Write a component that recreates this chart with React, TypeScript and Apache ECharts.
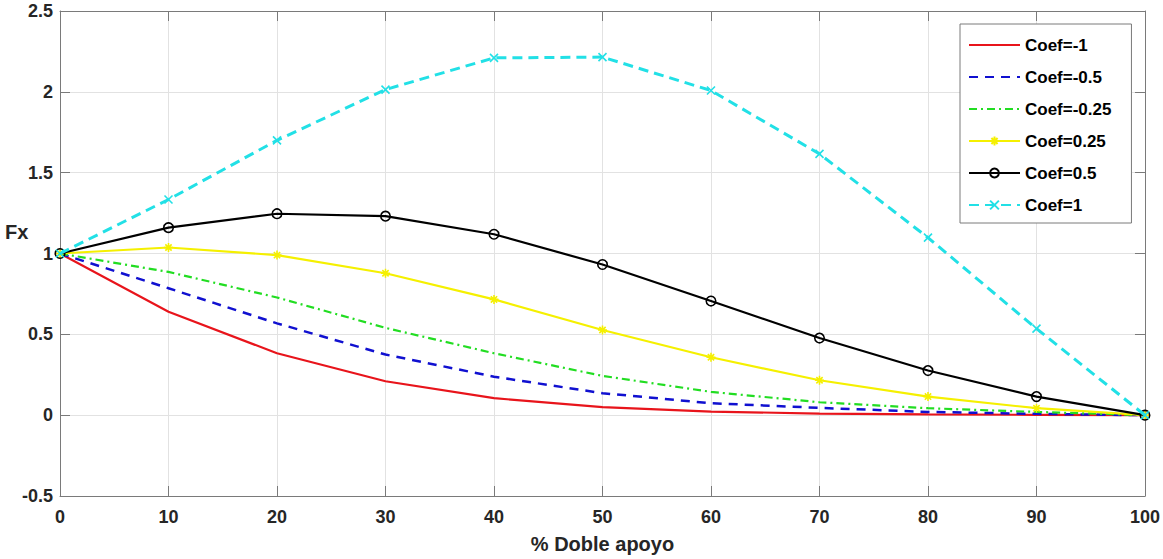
import React, { useEffect, useRef } from "react";
import * as echarts from "echarts";

const xValues = [0, 10, 20, 30, 40, 50, 60, 70, 80, 90, 100];
const seriesNames = ["Coef=-1", "Coef=-0.5", "Coef=-0.25", "Coef=0.25", "Coef=0.5", "Coef=1"];
const coefM1 = [1, 0.64, 0.383, 0.21, 0.105, 0.05, 0.022, 0.01, 0.005, 0.002, 0];
const coefM05 = [1, 0.785, 0.568, 0.375, 0.238, 0.136, 0.074, 0.045, 0.02, 0.008, 0];
const coefM025 = [1, 0.886, 0.728, 0.54, 0.383, 0.243, 0.144, 0.08, 0.043, 0.02, 0];
const coefP025 = [1, 1.037, 0.99, 0.878, 0.716, 0.527, 0.358, 0.216, 0.115, 0.043, 0];
const coefP05 = [1, 1.16, 1.246, 1.231, 1.119, 0.932, 0.706, 0.477, 0.276, 0.115, 0];
const coefP1 = [1, 1.334, 1.7, 2.014, 2.21, 2.215, 2.008, 1.616, 1.098, 0.535, 0];
const allValues = [coefM1, coefM05, coefM025, coefP025, coefP05, coefP1];

const xAxisName = "% Doble apoyo";
const yAxisName = "Fx";

const FONT = '"Liberation Sans", Arial, sans-serif';
const AXIS_COLOR = "#7a7a7a";
const TEXT_COLOR = "#262626";

const CROSS = "path://M0,0L10,10M10,0L0,10";
const STAR = "path://M5,0L5,10M0,5L10,5M1.5,1.5L8.5,8.5M8.5,1.5L1.5,8.5";

const styles = [
  { color: "#e8141b", width: 2.2, type: "solid" as any, symbol: "none", size: 0 },
  { color: "#1010d0", width: 2.5, type: [9, 7] as any, symbol: "none", size: 0 },
  { color: "#22dd22", width: 2.2, type: [8, 4, 2, 4] as any, symbol: "none", size: 0 },
  { color: "#f5f000", width: 2.2, type: "solid" as any, symbol: STAR, size: 9 },
  { color: "#000000", width: 2.2, type: "solid" as any, symbol: "circle", size: 9.5 },
  { color: "#22e0e6", width: 3, type: [10, 6] as any, symbol: CROSS, size: 8 },
];

export default function App() {
  const ref = useRef<HTMLDivElement>(null);
  useEffect(() => {
    if (!ref.current) return;
    const chart = echarts.init(ref.current, undefined, { renderer: "svg" });
    const series = seriesNames.map((name, si) => {
      const st = styles[si];
      const isCircle = st.symbol === "circle";
      return {
        name,
        type: "line",
        data: xValues.map((x, i) => [x, allValues[si][i]]),
        symbol: st.symbol,
        symbolSize: st.size,
        showSymbol: st.symbol !== "none",
        lineStyle: { color: st.color, width: st.width, type: st.type },
        itemStyle: {
          color: isCircle ? "rgba(0,0,0,0)" : st.color,
          borderColor: st.color,
          borderWidth: st.symbol === "none" ? 0 : 1.6,
        },
        emphasis: { disabled: true },
        z: 2 + si,
      };
    });
    const legendData = seriesNames.map((name, si) =>
      styles[si].symbol === "none"
        ? { name, itemStyle: { color: "rgba(0,0,0,0)", borderColor: "rgba(0,0,0,0)", borderWidth: 0 } }
        : { name }
    );
    const axisCommon = {
      axisLine: { show: true, onZero: false, lineStyle: { color: AXIS_COLOR, width: 1 } },
      axisTick: { show: true, inside: true, length: 10, lineStyle: { color: AXIS_COLOR, width: 1 } },
    };
    chart.setOption({
      animation: false,
      backgroundColor: "#ffffff",
      grid: { left: 60, right: 17, top: 11, bottom: 62, containLabel: false },
      legend: {
        orient: "vertical",
        left: 960,
        top: 24,
        padding: [11, 20, 8, 8],
        itemWidth: 51,
        itemHeight: 11,
        itemGap: 12,
        selectedMode: false,
        backgroundColor: "#ffffff",
        borderColor: AXIS_COLOR,
        borderWidth: 1,
        textStyle: { fontSize: 17, fontWeight: "bold", color: "#000", fontFamily: FONT, lineHeight: 20 },
        data: legendData,
      },
      xAxis: [
        {
          type: "value",
          min: 0,
          max: 100,
          interval: 10,
          position: "bottom",
          ...axisCommon,
          axisLabel: { color: TEXT_COLOR, fontSize: 18, fontWeight: "bold", fontFamily: FONT, margin: 12 },
          splitLine: { show: true, lineStyle: { color: "#e2e2e2", width: 1 } },
          name: xAxisName,
          nameLocation: "middle",
          nameGap: 38,
          nameTextStyle: { color: TEXT_COLOR, fontSize: 20, fontWeight: "bold", fontFamily: FONT },
        },
        {
          type: "value",
          min: 0,
          max: 100,
          interval: 10,
          position: "top",
          ...axisCommon,
          axisLabel: { show: false },
          splitLine: { show: false },
        },
      ],
      yAxis: [
        {
          type: "value",
          min: -0.5,
          max: 2.5,
          interval: 0.5,
          position: "left",
          ...axisCommon,
          axisLabel: {
            color: TEXT_COLOR,
            fontSize: 18,
            fontWeight: "bold",
            fontFamily: FONT,
            margin: 7,
            padding: [6, 0, 0, 0],
          },
          splitLine: { show: true, lineStyle: { color: "#e2e2e2", width: 1 } },
        },
        {
          type: "value",
          min: -0.5,
          max: 2.5,
          interval: 0.5,
          position: "right",
          ...axisCommon,
          axisLabel: { show: false },
          splitLine: { show: false },
        },
      ],
      graphic: [
        {
          type: "text",
          x: 5,
          y: 232,
          style: {
            text: yAxisName,
            font: `bold 20px ${FONT}`,
            fill: TEXT_COLOR,
            align: "left",
            verticalAlign: "middle",
          },
        },
      ],
      series,
    });
    return () => chart.dispose();
  }, []);
  return (
    <div
      ref={ref}
      style={{ position: "absolute", left: 0, top: 0, width: 1163, height: 559, background: "#fff" }}
    />
  );
}
